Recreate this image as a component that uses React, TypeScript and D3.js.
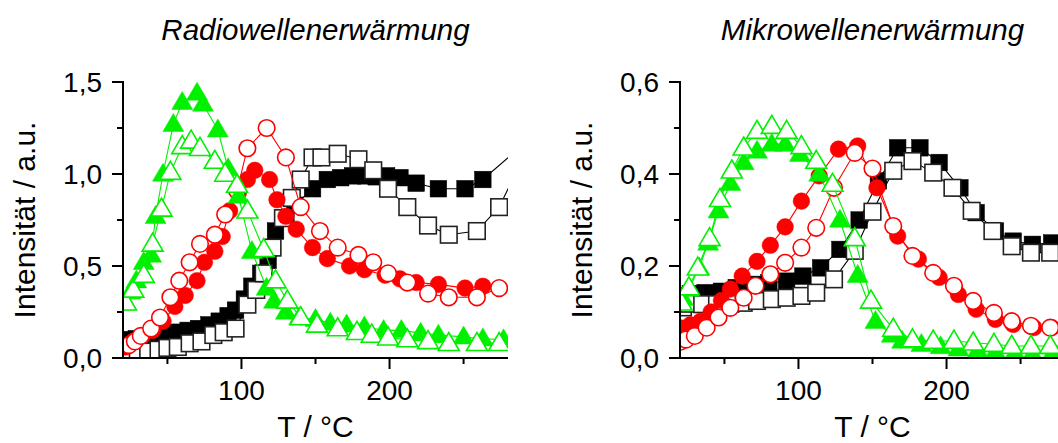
import React from "react";
import * as d3 from "d3";

type P = [number, number];

// ---------- Radiowellenerwärmung (left) ----------
const radioBlackFilled: P[] = [[22,0.1],[29,0.105],[36,0.11],[43,0.12],[50,0.13],[57,0.14],[64,0.15],[71,0.16],[78,0.18],[85,0.2],[91,0.23],[96,0.26],[102,0.32],[107,0.39],[113,0.46],[118,0.53],[123,0.69],[130,0.76],[136,0.83],[148,0.92],[158,0.97],[167,0.98],[175,0.99],[184,0.99],[191,0.985],[198,0.99],[207,0.98],[218,0.95],[233,0.92],[251,0.92],[263,0.97],[286,1.13]];
const radioBlackOpen: P[] = [[23,0.015],[30,0.025],[37,0.035],[44,0.045],[50,0.055],[57,0.06],[65,0.08],[73,0.09],[81,0.125],[88,0.14],[96,0.16],[104,0.29],[110,0.37],[115,0.46],[121,0.6],[128,0.76],[134,0.87],[140,0.97],[148,1.09],[154,1.09],[165,1.11],[179,1.08],[189,1.02],[199,0.92],[212,0.82],[226,0.72],[240,0.67],[259,0.69],[274,0.82],[288,1.05]];
const radioRedFilled: P[] = [[22,0.06],[27,0.09],[33,0.12],[40,0.15],[47,0.2],[55,0.28],[62,0.34],[70,0.42],[75,0.52],[82,0.58],[87,0.66],[92,0.8],[98,0.9],[104,0.97],[109,1.02],[119,0.97],[124,0.86],[130,0.77],[137,0.7],[148,0.6],[158,0.54],[173,0.5],[183,0.48],[197,0.45],[207,0.43],[218,0.41],[233,0.4],[251,0.38],[263,0.39]];
const radioRedOpen: P[] = [[24,0.07],[28,0.09],[32,0.12],[39,0.16],[45,0.22],[52,0.33],[58,0.42],[65,0.52],[72,0.62],[82,0.67],[89,0.78],[97,0.91],[104,1.14],[117,1.25],[130,1.09],[140,0.82],[153,0.69],[165,0.6],[179,0.56],[189,0.52],[199,0.46],[212,0.41],[226,0.35],[240,0.33],[259,0.33],[274,0.38]];
const radioGreenFilled: P[] = [[21,0.3],[25,0.36],[29,0.42],[34,0.52],[39,0.56],[42,0.77],[47,1.0],[54,1.27],[60,1.39],[70,1.44],[74,1.38],[84,1.24],[91,1.03],[98,0.88],[107,0.58],[117,0.38],[122,0.31],[130,0.25],[139,0.22],[150,0.21],[160,0.19],[171,0.18],[183,0.17],[196,0.15],[208,0.15],[221,0.135],[233,0.125],[250,0.115],[263,0.105],[277,0.1]];
const radioGreenOpen: P[] = [[22,0.3],[27,0.37],[34,0.45],[40,0.62],[46,0.81],[52,1.01],[60,1.15],[66,1.18],[72,1.14],[82,1.07],[89,1.0],[97,0.94],[104,0.8],[115,0.59],[123,0.42],[131,0.31],[140,0.22],[151,0.18],[165,0.16],[178,0.14],[188,0.125],[199,0.11],[212,0.1],[226,0.09],[240,0.08],[259,0.08],[274,0.08]];

// ---------- Mikrowellenerwärmung (right) ----------
const microBlackFilled: P[] = [[22,0.135],[27,0.14],[37,0.142],[48,0.145],[58,0.153],[69,0.16],[80,0.163],[92,0.167],[103,0.178],[115,0.196],[128,0.236],[141,0.3],[154,0.385],[167,0.457],[182,0.457],[195,0.425],[209,0.37],[220,0.316],[233,0.276],[245,0.254],[258,0.247],[271,0.25]];
const microBlackOpen: P[] = [[22,0.11],[26,0.118],[35,0.117],[45,0.117],[54,0.118],[63,0.12],[72,0.124],[82,0.128],[92,0.131],[102,0.135],[112,0.142],[124,0.171],[138,0.233],[150,0.318],[164,0.407],[177,0.428],[191,0.403],[204,0.37],[217,0.32],[231,0.276],[244,0.243],[257,0.229],[270,0.229]];
const microRedFilled: P[] = [[21,0.065],[27,0.072],[34,0.08],[41,0.1],[48,0.125],[54,0.15],[62,0.178],[72,0.21],[81,0.245],[91,0.285],[102,0.341],[114,0.396],[127,0.454],[140,0.461],[153,0.37],[167,0.265],[181,0.215],[195,0.175],[208,0.138],[220,0.106],[233,0.084],[245,0.073],[259,0.066],[271,0.066]];
const microRedOpen: P[] = [[20,0.035],[24,0.04],[30,0.048],[38,0.066],[46,0.088],[54,0.109],[63,0.131],[71,0.157],[81,0.182],[91,0.207],[102,0.24],[112,0.283],[124,0.37],[138,0.446],[150,0.412],[164,0.287],[177,0.222],[191,0.185],[205,0.157],[218,0.124],[232,0.098],[244,0.08],[257,0.07],[270,0.066]];
const microGreenFilled: P[] = [[22,0.13],[26,0.15],[33,0.196],[39,0.25],[46,0.32],[54,0.38],[63,0.425],[72,0.45],[82,0.465],[91,0.465],[101,0.443],[114,0.4],[128,0.3],[140,0.18],[152,0.08],[163,0.05],[170,0.037],[183,0.03],[196,0.025],[208,0.02],[221,0.017],[233,0.014],[246,0.012],[258,0.01],[271,0.008],[284,0.007]];
const microGreenOpen: P[] = [[21,0.12],[26,0.153],[32,0.196],[40,0.26],[47,0.345],[55,0.407],[63,0.457],[72,0.493],[82,0.504],[92,0.493],[102,0.46],[112,0.428],[123,0.378],[138,0.26],[149,0.124],[164,0.063],[177,0.04],[191,0.037],[205,0.037],[218,0.033],[232,0.03],[244,0.026],[257,0.026],[270,0.026],[283,0.026]];

const radioYTicks = [0, 0.5, 1.0, 1.5];
const radioYMinor = [0.25, 0.75, 1.25];
const microYTicks = [0, 0.2, 0.4, 0.6];
const microYMinor = [0.1, 0.3, 0.5];
const xTicks = [100, 200];
const xMinor = [50, 150, 250];

const BLACK = "#000000";
const RED = "#ff0000";
const GREEN = "#00f000";
const FONT = "'Liberation Sans', Arial, sans-serif";

type Shape = "square" | "circle" | "triangle";
interface SeriesDef { data: P[]; color: string; shape: Shape; filled: boolean; }

function Marker({ x, y, s }: { x: number; y: number; s: SeriesDef }) {
  const fill = s.filled ? s.color : "#ffffff";
  const stroke = s.filled ? s.color : (s.color === BLACK ? "#222" : s.color);
  const sw = s.filled ? 0.5 : 1.6;
  if (s.shape === "square") {
    const h = 8.3;
    return <rect x={x - h} y={y - h} width={2 * h} height={2 * h} fill={fill} stroke={stroke} strokeWidth={sw} />;
  }
  if (s.shape === "circle") {
    return <circle cx={x} cy={y} r={8.3} fill={fill} stroke={stroke} strokeWidth={sw} />;
  }
  const w = 10.5, ht = 18;
  const pts = `${x},${y - ht * 0.6} ${x + w},${y + ht * 0.4} ${x - w},${y + ht * 0.4}`;
  return <polygon points={pts} fill={fill} stroke={stroke} strokeWidth={sw} strokeLinejoin="miter" />;
}

interface PanelProps {
  id: string; title: string; x0: number; series: SeriesDef[];
  yMax: number; yTicks: number[]; yMinor: number[];
}

function Panel({ id, title, x0, series, yMax, yTicks, yMinor }: PanelProps) {
  const xL = x0, xR = x0 + 385;
  const yB = 358, yT = 82;
  const xs = d3.scaleLinear().domain([20, 280]).range([xL, xR]);
  const ys = d3.scaleLinear().domain([0, yMax]).range([yB, yT]);
  const line = d3.line<P>().x(d => xs(d[0])).y(d => ys(d[1]));
  const fmt = (v: number) => v.toFixed(1).replace(".", ",");
  const cx = (xL + xR) / 2;
  return (
    <g>
      <defs>
        <clipPath id={`clip-${id}`}>
          <rect x={xL} y={yT - 30} width={xR - xL} height={yB - yT + 30} />
        </clipPath>
      </defs>
      <text x={cx} y={40} textAnchor="middle" fontFamily={FONT} fontStyle="italic" fontSize={29.5}>{title}</text>
      <g clipPath={`url(#clip-${id})`}>
        {series.map((s, i) => (
          <g key={i}>
            <path d={line(s.data) || ""} fill="none" stroke={s.color} strokeWidth={1.1} />
            {s.data.filter(d => d[0] <= 281).map((d, j) => (
              <Marker key={j} x={xs(d[0])} y={ys(d[1])} s={s} />
            ))}
          </g>
        ))}
      </g>
      <line x1={xL} x2={xL} y1={yT - 1} y2={yB + 1} stroke="#000" strokeWidth={2} />
      <line x1={xL - 1} x2={xR} y1={yB} y2={yB} stroke="#000" strokeWidth={2} />
      {yTicks.map(t => (
        <g key={`yt${t}`}>
          <line x1={xL - 11} x2={xL} y1={ys(t)} y2={ys(t)} stroke="#000" strokeWidth={2} />
          <text x={xL - 21} y={ys(t) + 10} textAnchor="end" fontFamily={FONT} fontSize={28}>{fmt(t)}</text>
        </g>
      ))}
      {yMinor.map(t => (
        <line key={`ym${t}`} x1={xL - 6} x2={xL} y1={ys(t)} y2={ys(t)} stroke="#000" strokeWidth={2} />
      ))}
      {xTicks.map(t => (
        <g key={`xt${t}`}>
          <line x1={xs(t)} x2={xs(t)} y1={yB} y2={yB + 11} stroke="#000" strokeWidth={2} />
          <text x={xs(t)} y={400} textAnchor="middle" fontFamily={FONT} fontSize={28}>{t}</text>
        </g>
      ))}
      {xMinor.map(t => (
        <line key={`xm${t}`} x1={xs(t)} x2={xs(t)} y1={yB} y2={yB + 6} stroke="#000" strokeWidth={2} />
      ))}
      <text x={cx} y={437} textAnchor="middle" fontFamily={FONT} fontSize={30}>T / °C</text>
      <text transform={`translate(${xL - 88},${(yB + yT) / 2}) rotate(-90)`} textAnchor="middle" fontFamily={FONT} fontSize={30}>Intensität / a.u.</text>
    </g>
  );
}

export default function App() {
  const radioSeries: SeriesDef[] = [
    { data: radioBlackFilled, color: BLACK, shape: "square", filled: true },
    { data: radioBlackOpen, color: BLACK, shape: "square", filled: false },
    { data: radioRedFilled, color: RED, shape: "circle", filled: true },
    { data: radioRedOpen, color: RED, shape: "circle", filled: false },
    { data: radioGreenFilled, color: GREEN, shape: "triangle", filled: true },
    { data: radioGreenOpen, color: GREEN, shape: "triangle", filled: false },
  ];
  const microSeries: SeriesDef[] = [
    { data: microBlackFilled, color: BLACK, shape: "square", filled: true },
    { data: microBlackOpen, color: BLACK, shape: "square", filled: false },
    { data: microRedFilled, color: RED, shape: "circle", filled: true },
    { data: microRedOpen, color: RED, shape: "circle", filled: false },
    { data: microGreenFilled, color: GREEN, shape: "triangle", filled: true },
    { data: microGreenOpen, color: GREEN, shape: "triangle", filled: false },
  ];
  return (
    <svg width={1058} height={443} style={{ position: "absolute", left: 0, top: 0, background: "#fff" }}>
      <rect x={0} y={0} width={1058} height={443} fill="#fff" />
      <Panel id="radio" title="Radiowellenerwärmung" x0={123} series={radioSeries} yMax={1.5} yTicks={radioYTicks} yMinor={radioYMinor} />
      <Panel id="micro" title="Mikrowellenerwärmung" x0={680} series={microSeries} yMax={0.6} yTicks={microYTicks} yMinor={microYMinor} />
    </svg>
  );
}
